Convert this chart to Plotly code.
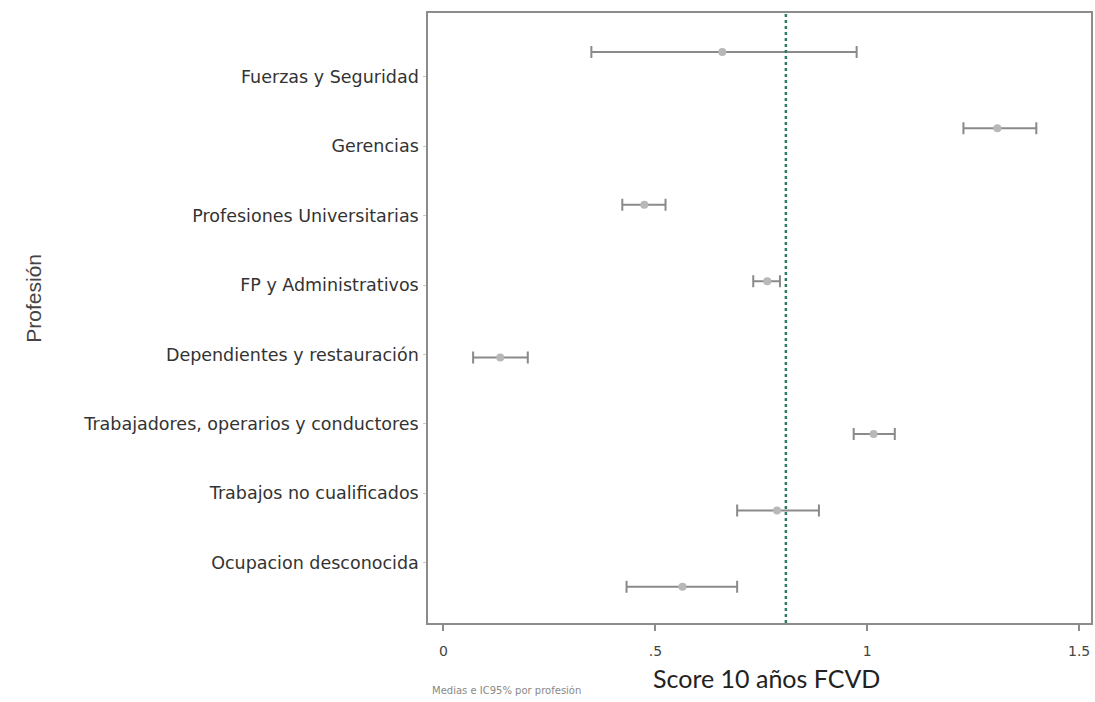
import plotly.graph_objects as go

categories = [
    "Fuerzas y Seguridad",
    "Gerencias",
    "Profesiones Universitarias",
    "FP y Administrativos",
    "Dependientes y restauración",
    "Trabajadores, operarios y conductores",
    "Trabajos no cualificados",
    "Ocupacion desconocida",
]
means = [0.658, 1.307, 0.474, 0.764, 0.134, 1.015, 0.787, 0.564]
ci_low = [0.349, 1.227, 0.422, 0.731, 0.070, 0.968, 0.693, 0.432]
ci_high = [0.975, 1.399, 0.524, 0.794, 0.199, 1.065, 0.886, 0.693]
overall_mean = 0.808

x_tickvals = [0, 0.5, 1, 1.5]
x_ticktext = ["0", ".5", "1", "1.5"]

# points sit at integer rows; the category labels in the original are offset
pos = list(range(len(categories)))
label_pos = [0.327 + 0.908 * i for i in pos]

fig = go.Figure()
fig.add_trace(go.Scatter(
    x=means, y=pos, mode="markers",
    marker=dict(size=8, color="#b8b8b8"),
    error_x=dict(type="data", symmetric=False,
                 array=[h - m for h, m in zip(ci_high, means)],
                 arrayminus=[m - l for m, l in zip(means, ci_low)],
                 color="#8a8a8a", thickness=2, width=6),
    showlegend=False,
))

fig.add_shape(type="line", xref="x", yref="paper", x0=overall_mean, x1=overall_mean,
              y0=0, y1=1, line=dict(color="#2f7a68", width=2.5, dash="dot"))

fig.update_layout(
    width=1095, height=702,
    margin=dict(l=428, r=2, t=13, b=79),
    paper_bgcolor="white", plot_bgcolor="white",
    xaxis=dict(range=[-0.0365, 1.528], tickvals=x_tickvals, ticktext=x_ticktext,
               showgrid=False, zeroline=False, showline=True, mirror=True,
               linecolor="#8c8c8c", linewidth=1.5, ticks="outside", ticklen=6,
               tickcolor="#8c8c8c", tickwidth=1.5, ticklabelstandoff=8,
               tickfont=dict(family="DejaVu Sans", size=14, color="#444444")),
    yaxis=dict(range=[7.474, -0.51], tickvals=label_pos, ticktext=categories,
               showgrid=False, zeroline=False, showline=True, mirror=True,
               linecolor="#8c8c8c", linewidth=1.5, ticks="outside", ticklen=3,
               tickcolor="#cccccc", ticklabelstandoff=1,
               tickfont=dict(family="DejaVu Sans", size=17.5, color="#333333")),
    annotations=[
        dict(text="Profesión", xref="paper", yref="paper", x=-0.5955, y=0.532,
             textangle=-90, showarrow=False, xanchor="center", yanchor="middle",
             font=dict(family="Liberation Sans", size=21, color="#444444")),
        dict(text="Score 10 años FCVD", xref="paper", yref="paper", x=0.511, y=-0.090,
             showarrow=False, xanchor="center", yanchor="middle",
             font=dict(family="Lato", size=25, color="#222222")),
        dict(text="Medias e IC95% por profesión", xref="paper", yref="paper", x=0.003, y=-0.110,
             showarrow=False, xanchor="left", yanchor="middle",
             font=dict(family="DejaVu Sans", size=10, color="#888888")),
    ],
)

fig.write_html("out.html")
